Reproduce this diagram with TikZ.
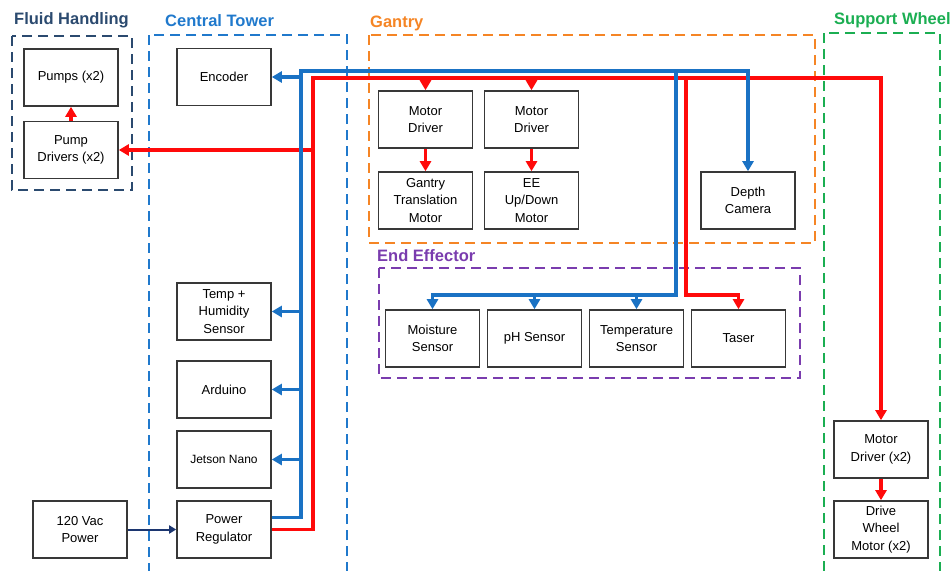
\documentclass[tikz,border=0pt]{standalone}
\usepackage{fontspec}
\setmainfont{Liberation Sans}
\usetikzlibrary{arrows.meta}
\definecolor{busblue}{HTML}{1A72C4}
\definecolor{busred}{HTML}{FF0A0A}
\definecolor{fluidnavy}{HTML}{2B4A6F}
\definecolor{towerblue}{HTML}{2079CC}
\definecolor{gantryorange}{HTML}{F58525}
\definecolor{eepurple}{HTML}{7A3CAE}
\definecolor{wheelgreen}{HTML}{1BAE52}
\definecolor{acnavy}{HTML}{1C3670}
\tikzset{
  unit/.style={draw=black!78, line width=1.6pt, fill=white, minimum width=94pt,
    minimum height=57pt, inner sep=0pt, align=center, font=\fontsize{13}{17.5}\selectfont},
  grp/.style={line width=2.3pt, dash pattern=on 10pt off 6pt},
  grptitle/.style={font=\fontsize{16.5}{18}\selectfont\bfseries, anchor=west, inner sep=0pt},
  tip/.style={-{Triangle[length=10pt,width=11pt]}},
  redbus/.style={draw=busred, line width=3.4pt},
  bluebus/.style={draw=busblue, line width=3.4pt},
}
\begin{document}
\begin{tikzpicture}[x=1pt,y=-1pt]
\useasboundingbox (0,0) rectangle (952,570);

% group frames
\draw[grp, fluidnavy] (12,36) rectangle (132,190);
\draw[grp, towerblue] (149,35) -- (149,572) (347,572) -- (347,35) -- (149,35);
\draw[grp, gantryorange] (369,35) rectangle (815,243);
\draw[grp, eepurple] (379,268) rectangle (800,378);
\draw[grp, wheelgreen] (824,33) -- (824,572) (940,572) -- (940,33) -- (824,33);

% group titles
\node[grptitle, text=fluidnavy] (tfluid) at (14,20) {Fluid Handling};
\node[grptitle, text=towerblue] (ttower) at (165,21) {Central Tower};
\node[grptitle, text=gantryorange] (tgantry) at (370,23) {Gantry};
\node[grptitle, text=eepurple] (tee) at (377,256) {End Effector};
\node[grptitle, text=wheelgreen] (twheel) at (834,20) {Support Wheel};

% units
\node[unit] (pumps) at (71,77.5) {Pumps (x2)};
\node[unit] (pdrv) at (71,150) {Pump\\Drivers (x2)};
\node[unit] (enc) at (224,77) {Encoder};
\node[unit] (thum) at (224,311.5) {Temp +\\Humidity\\Sensor};
\node[unit] (ard) at (224,389.5) {Arduino};
\node[unit, font=\fontsize{12}{16}\selectfont] (jet) at (224,459.5) {Jetson Nano};
\node[unit] (preg) at (224,529.5) {Power\\Regulator};
\node[unit] (vac) at (80,529.5) {120 Vac\\Power};
\node[unit] (md1) at (425.5,119.5) {Motor\\Driver};
\node[unit] (md2) at (531.5,119.5) {Motor\\Driver};
\node[unit] (gtm) at (425.5,200.5) {Gantry\\Translation\\Motor};
\node[unit] (eem) at (531.5,200.5) {EE\\Up/Down\\Motor};
\node[unit] (cam) at (748,200.5) {Depth\\Camera};
\node[unit] (moist) at (432.5,338.5) {Moisture\\Sensor};
\node[unit] (ph) at (534.5,338.5) {pH Sensor};
\node[unit] (tmp) at (636.5,338.5) {Temperature\\Sensor};
\node[unit] (taser) at (738.5,338.5) {Taser};
\node[unit] (wmd) at (881,449.5) {Motor\\Driver (x2)};
\node[unit] (dwm) at (881,529.5) {Drive\\Wheel\\Motor (x2)};

% bus junctions
\coordinate (rv) at (313,78);
\coordinate (rpump) at (313,150);
\coordinate (ree) at (686,78);
\coordinate (reel) at (686,295);
\coordinate (bv) at (301,71);
\coordinate (bee) at (676,71);
\coordinate (beel) at (676,295);

% AC supply
\draw[acnavy, line width=2pt, -{Triangle[length=7pt,width=8pt]}] (vac.east) -- (preg.west);

% red power bus
\draw[redbus, tip] (preg.east) -| (rv) -| (wmd.north);
\draw[redbus, tip] (rpump) -- (pdrv.east);
\draw[redbus, tip] (md1.north |- rv) -- (md1.north);
\draw[redbus, tip] (md2.north |- rv) -- (md2.north);
\draw[redbus, tip] (ree) -- (reel) -| (taser.north);
\draw[redbus, tip] (md1) -- (gtm);
\draw[redbus, tip] (md2) -- (eem);
\draw[redbus, tip] (wmd) -- (dwm);
\draw[redbus, tip] (pdrv) -- (pumps);

% blue signal bus
\draw[bluebus, tip] ([yshift=12pt]preg.east) -| (bv) -| (cam.north);
\draw[bluebus, tip] (bv |- enc.east) -- (enc.east);
\draw[bluebus, tip] (bv |- thum.east) -- (thum.east);
\draw[bluebus, tip] (bv |- ard.east) -- (ard.east);
\draw[bluebus, tip] (bv |- jet.east) -- (jet.east);
\draw[bluebus, tip] (bee) -- (beel) -| (moist.north);
\draw[bluebus, tip] (ph.north |- beel) -- (ph.north);
\draw[bluebus, tip] (tmp.north |- beel) -- (tmp.north);
\end{tikzpicture}
\end{document}
